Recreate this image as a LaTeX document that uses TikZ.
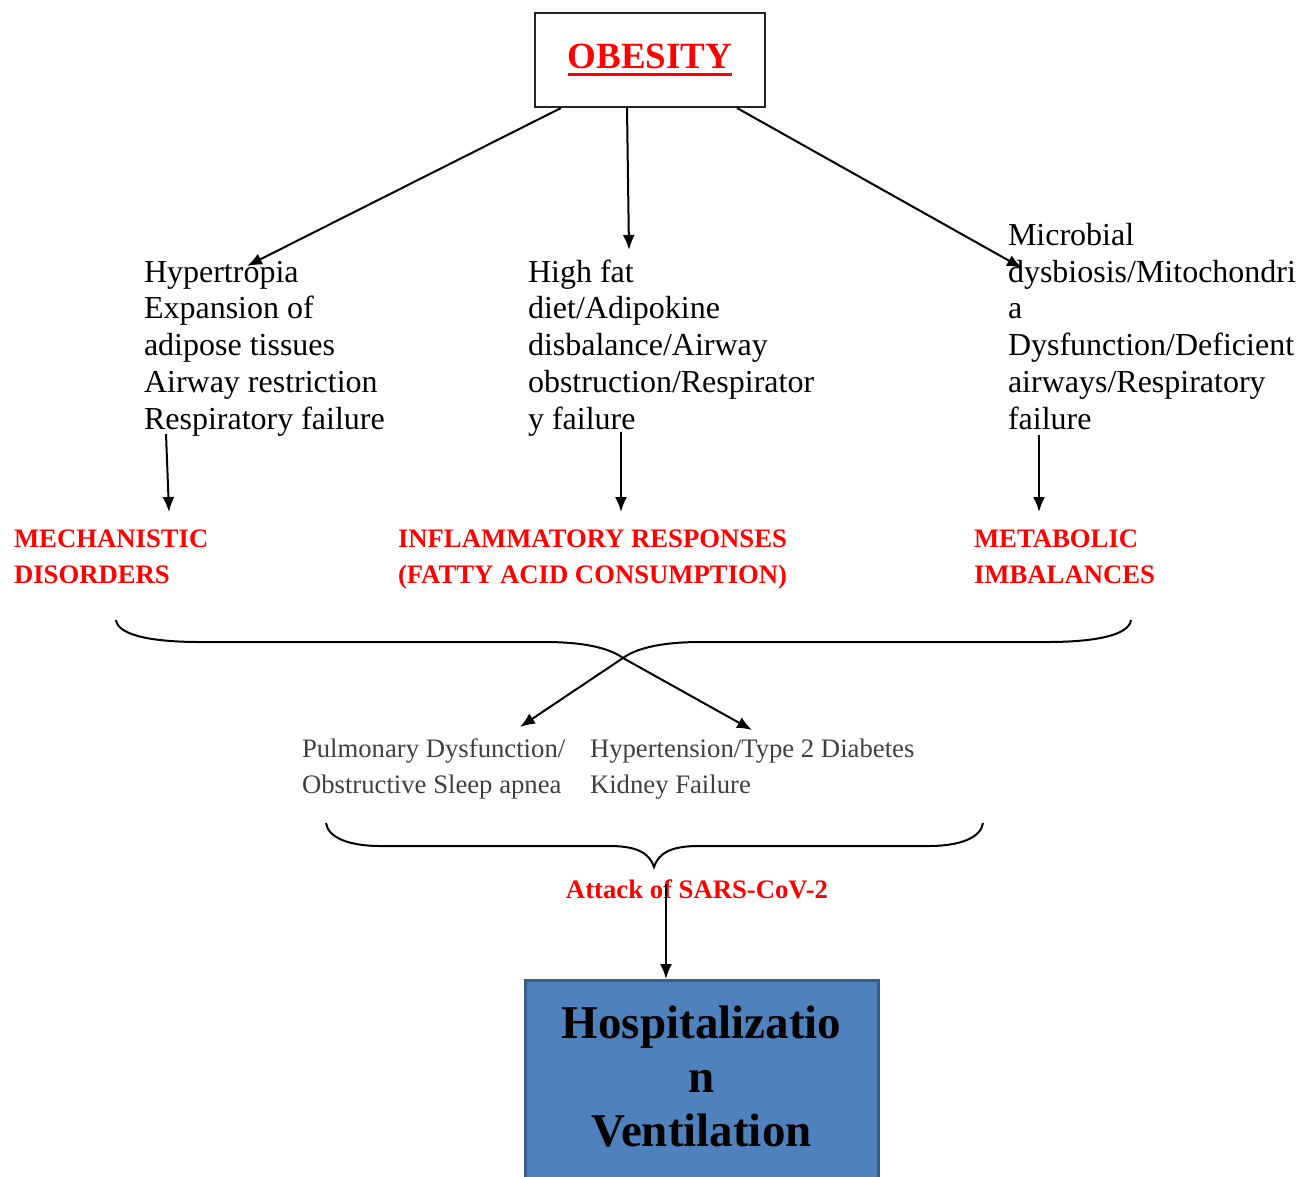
\documentclass[tikz,border=0pt]{standalone}
\usepackage{fontspec}
\setmainfont{Liberation Serif}
\usetikzlibrary{arrows.meta}
\definecolor{hospblue}{RGB}{79,129,189}
\definecolor{hospedge}{RGB}{56,93,138}
\newcommand\thickuline[1]{\setbox0\hbox{#1}\rlap{\vrule height -4pt depth 7.5pt width \wd0}\box0}

\begin{document}
\begin{tikzpicture}[x=1pt,y=-1pt,->,>={Latex[length=15pt,width=12pt]},line width=2pt,
    plain text/.style={align=left,inner sep=0pt,anchor=base west,font=\fontsize{32}{36.7}\selectfont},
    red label/.style={align=left,inner sep=0pt,anchor=base west,text=red,font=\fontsize{26.7}{36}\selectfont\bfseries},
    grey text/.style={align=left,inner sep=0pt,anchor=base west,text=black!75,font=\fontsize{26.7}{36}\selectfont},
    title box/.style={draw=black!85,line width=2pt,minimum width=230pt,minimum height=94pt,text=red,font=\fontsize{37}{40}\selectfont\bfseries},
    hosp box/.style={draw=hospedge,fill=hospblue,line width=3pt,anchor=north,minimum width=353pt,minimum height=216pt,text depth=25pt,align=center,font=\fontsize{47}{54}\selectfont\bfseries}]

  \useasboundingbox (0,0) rectangle (1297,1176);
  \clip (0,0) rectangle (1297,1176);

  \node[title box] (obesity) at (650,60) {\thickuline{OBESITY}};

  % first row of causes (base = last line)
  \node[plain text] (hyp) at (143,429) {Hypertropia\\Expansion of\\adipose tissues\\Airway restriction\\Respiratory failure};
  \node[plain text] (fat) at (527,429) {High fat\\diet/Adipokine\\disbalance/Airway\\obstruction/Respirator\\y failure};
  \node[plain text] (mic) at (1007,429) {Microbial\\dysbiosis/Mitochondri\\a\\Dysfunction/Deficient\\airways/Respiratory\\failure};

  % red headings
  \node[red label] (mech) at (13,583) {MECHANISTIC\\DISORDERS};
  \node[red label] (infl) at (397,583) {INFLAMMATORY RESPONSES\\(FATTY ACID CONSUMPTION)};
  \node[red label] (meta) at (973,583) {METABOLIC\\IMBALANCES};

  \node[grey text] (pulm) at (301,793) {Pulmonary Dysfunction/\\Obstructive Sleep apnea};
  \node[grey text] (hyper) at (589,793) {Hypertension/Type 2 Diabetes\\Kidney Failure};

  \node[red label,anchor=base] (attack) at (697,898) {Attack of SARS-CoV-2};

  \node[hosp box] (hosp) at (701.5,979) {Hospitalizatio\\n\\Ventilation};

  % arrow ends
  \coordinate (o1) at (561,108);
  \coordinate (o2) at (627,108);
  \coordinate (o3) at (737,108);
  \coordinate (h1) at (247,266);
  \coordinate (h2) at (629,250);
  \coordinate (h3) at (1022,268);
  \coordinate (d1) at (166,434);
  \coordinate (d2) at (621,432);
  \coordinate (d3) at (1039,435);
  \coordinate (tip1) at (623,658);
  \coordinate (tip2) at (654,867);
  \coordinate (p1) at (520,727);
  \coordinate (p2) at (752,730);
  \coordinate (s1) at (666,884);

  \path (o1) edge (h1)
        (o2) edge (h2)
        (o3) edge (h3)
        (d1) edge (169,512)
        (d2) edge (621,512)
        (d3) edge (1039,512)
        (tip1) edge (p1)
               edge (p2)
        (s1) edge (s1 |- hosp.north);

  % braces
  \draw[-] (116,620) .. controls (118,636) and (155,642) .. (200,642) -- (545,642)
     .. controls (590,642) and (612,650) .. (tip1)
     .. controls (634,650) and (656,642) .. (701,642) -- (1047,642)
     .. controls (1092,642) and (1129,636) .. (1131,620);
  \draw[-] (326,823) .. controls (328,838) and (350,846) .. (380,846) -- (610,846)
     .. controls (640,846) and (650,855) .. (tip2)
     .. controls (658,855) and (668,846) .. (698,846) -- (929,846)
     .. controls (959,846) and (981,838) .. (983,823);
\end{tikzpicture}
\end{document}
